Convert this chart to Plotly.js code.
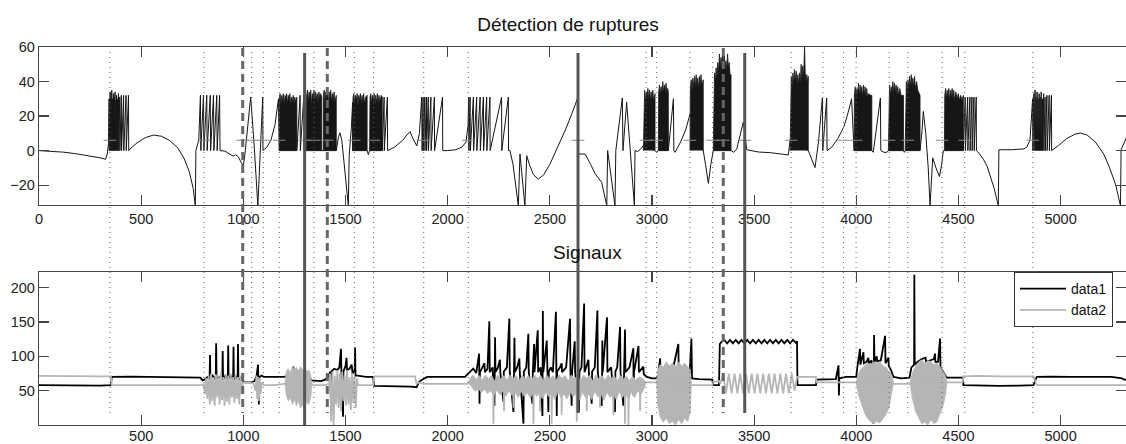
<!DOCTYPE html>
<html><head><meta charset="utf-8">
<script src="https://cdn.plot.ly/plotly-3.0.1.min.js"></script>
<style>html,body{margin:0;padding:0;background:#fff}#chart{width:1126px;height:444px}</style>
</head><body><div id="chart"></div>
<script>
// ---------- data ----------
const xTicksTop = [0,500,1000,1500,2000,2500,3000,3500,4000,4500,5000];
const xTicksBottom = [500,1000,1500,2000,2500,3000,3500,4000,4500,5000];
const yTicksTop = [-20,0,20,40,60];
const yTicksBottom = [50,100,150,200];

const dottedBreaks = [347,807,1041,1098,1176,1346,1543,1638,1883,2101,2971,3023,3186,3297,3681,3837,3937,3999,4161,4252,4420,4531,4864];
const dashedBreaks = [997,1411,3349];
const solidBreaks = [1300,2638,3454];
const thresholdLevel = 6;

const topSignal = [
[0,0],[60,-0.3],[120,-0.9],[180,-1.8],[240,-2.9],[300,-4.2],[326,-5],[334,-2],[340,4],
[343,30],[344,0],[348,34],[349,0],[352,31],[353,0],[356,35],[357,0],[360,30],[361,0],[364,33],[365,0],[368,31],[369,0],[372,34],[373,0],[376,29],[377,0],[380,32],[381,0],[384,30],[385,0],[389,33],[390,0],[395,31],[396,0],[403,32],[404,0],[414,32],[415,0],[426,32],[427,0],[438,32],[439,0],
[450,1.5],[480,4.5],[520,7.5],[560,9],[600,8.3],[640,5.8],[680,1.5],[710,-4.5],[735,-12],[755,-22],[765,-32],
[768,0],[782,6],
[790,32],[792,0],[805,32],[807,0],[821,32],[823,0],[838,32],[840,0],[854,32],[856,0],[870,32],[872,0],[884,32],[886,0],
[910,-0.3],[935,-2],[950,-3.2],[962,-2.4],[975,-3.5],[990,-7],[1000,-9],[1008,-2],[1020,12],[1036,31],[1052,5],[1071,-32],[1095,31],[1096,0],[1115,2],[1135,6],[1155,15],[1172,30],[1176,0],
[1262,0],[1278,32],[1279,0],[1296,32],[1297,0],[1308,0],
[1384,0],[1392,0],
[1455,0],[1466,8],[1473,10.3],[1482,6],[1495,-8],[1504,-20],[1514,-32],[1518,-3],[1528,12],[1535,28],[1535,0],
[1606,0],[1612,-2.3],[1618,0],
[1680,0],[1689,31],[1690,0],[1705,31],[1706,0],
[1740,2],[1780,6],[1800,9],[1816,11],[1830,7],[1849,2.7],[1862,10],[1873,31],[1875,0],[1880,31],[1881,0],[1888,31],[1889,0],[1896,31],[1897,0],[1905,31],[1906,0],[1918,31],[1919,0],[1935,31],[1936,0],[1975,31],[1976,0],
[2000,0],[2040,0.5],[2070,2],[2090,5],[2100,15],[2103,31],[2104,0],[2110,31],[2111,0],[2126,31],[2127,0],[2142,31],[2143,0],[2159,31],[2160,0],[2175,31],[2176,0],[2191,31],[2192,0],[2207,31],[2208,0],[2264,31],[2265,0],[2297,31],[2298,0],
[2305,0],[2320,-8],[2346,-32],[2354,-2],[2378,-32],[2387,-3],[2400,-8],[2420,-14],[2444,-16.5],[2470,-14],[2500,-8],[2540,2],[2580,13],[2610,22],[2635,30],[2640,-2],[2673,-2],[2700,-8],[2722,-13.4],[2754,-18.5],[2779,-32],[2783,0],[2819,-32],[2823,0],[2855,30.5],[2858,0],[2876,28],[2914,-32],[2917,0],[2930,-0.5],[2945,1],[2958,3],
[3015,0],[3023,-1],[3031,0],
[3080,0],[3105,30],[3107,0],[3113,-1],[3140,5],[3165,12],[3186,21],
[3251,0],[3262,-8],[3276,-19],[3288,-8],[3300,0],
[3387,0],[3400,-1],[3415,1],[3430,8],[3447,16.5],[3464,0.5],[3520,-0.8],[3580,-1.2],[3640,-2],[3667,-2.5],[3672,2],[3676,6],
[3765,0],[3780,-5],[3798,-9.8],[3815,5],[3834,30.5],[3836,0],[3855,30.5],[3857,0],[3880,2],[3910,7],[3940,14],[3960,22],[3977,30],[3989,0],
[4076,0],[4083,-1],[4118,30.5],[4120,0],[4135,-1],[4150,-1],[4157,0],
[4231,0],[4235,-1],[4239,0],
[4312,0],[4322,12],[4328,22.7],[4340,10],[4352,-10],[4361,-32],[4374,-4.2],[4390,-10],[4407,-15],[4418,-8],[4426,0],[4431,0],
[4524,0],[4533,31],[4534,0],[4545,31],[4546,0],[4556,31],[4557,0],[4566,31],[4567,0],[4576,31],[4577,0],[4587,31],[4588,0],
[4600,-1.5],[4622,-5],[4640,-9],[4655,-15],[4675,-22],[4695,-32],[4698,0.5],[4760,0.5],[4820,1],[4834,2],[4850,6],
[4863,30],[4864,0],[4869,33],[4870,0],[4875,35],[4876,0],[4880,31],[4881,0],[4885,34],[4886,0],[4890,30],[4891,0],[4895,33],[4896,0],[4900,31],[4901,0],[4905,34],[4906,0],[4911,30],[4912,0],[4917,33],[4918,0],[4924,31],[4925,0],[4933,32],[4934,0],[4944,32],[4945,0],[4955,32],[4956,0],
[4990,3],[5030,7],[5070,9.5],[5097,10.2],[5130,9],[5170,5],[5211,-2],[5240,-10],[5270,-20],[5293,-32],[5296,0.5],[5310,4],[5320,7],[5330,12]
];

// dense spike bursts of the top signal (outline of the dark block)
const topDense1 = [[1176,0],[1176,30],[1180,33],[1184,27],[1188,32],[1192,29],[1196,33],[1200,26],[1204,32],[1208,30],[1212,33],[1216,27],[1220,32],[1224,29],[1228,33],[1232,26],[1236,31],[1240,28],[1244,32],[1248,27],[1252,31],[1256,28],[1262,31],[1262,0]];
const topDense2 = [[1308,0],[1310,32],[1314,35],[1318,28],[1322,34],[1326,30],[1330,35],[1334,27],[1338,33],[1342,30],[1346,35],[1350,28],[1354,34],[1358,30],[1362,33],[1366,27],[1370,34],[1374,30],[1378,33],[1384,31],[1384,0]];
const topDense3 = [[1392,0],[1392,33],[1396,35],[1400,28],[1404,34],[1408,30],[1412,35],[1416,27],[1420,34],[1424,30],[1428,35],[1432,28],[1436,33],[1440,29],[1444,34],[1448,28],[1455,32],[1455,0]];
const topDense4 = [[1535,0],[1537,31],[1541,33],[1545,27],[1549,32],[1553,29],[1557,33],[1561,26],[1565,32],[1569,29],[1573,33],[1577,27],[1581,32],[1585,28],[1589,33],[1593,27],[1599,31],[1606,32],[1606,0]];
const topDense5 = [[1618,0],[1620,31],[1624,33],[1628,27],[1632,32],[1636,29],[1640,33],[1644,26],[1648,32],[1652,28],[1656,33],[1660,27],[1664,32],[1668,28],[1675,32],[1680,31],[1680,0]];
const topDense6 = [[2958,0],[2960,30],[2964,35],[2968,29],[2972,34],[2976,31],[2980,36],[2984,30],[2988,35],[2992,29],[2996,34],[3000,30],[3004,35],[3008,29],[3015,33],[3015,0]];
const topDense7 = [[3031,0],[3033,34],[3037,38],[3041,32],[3045,37],[3049,34],[3053,40],[3057,33],[3061,38],[3065,34],[3069,39],[3073,33],[3077,36],[3080,34],[3080,0]];
const topDense8 = [[3186,0],[3188,36],[3192,41],[3196,35],[3200,42],[3204,37],[3208,43],[3212,36],[3216,44],[3220,38],[3224,42],[3228,36],[3232,43],[3236,37],[3240,44],[3244,38],[3251,41],[3251,0]];
const topDense9 = [[3300,0],[3302,34],[3306,45],[3310,40],[3314,48],[3318,42],[3322,51],[3326,45],[3330,56],[3334,48],[3338,54],[3342,47],[3346,58],[3350,50],[3354,55],[3358,47],[3362,52],[3366,46],[3370,56],[3374,48],[3378,51],[3382,44],[3387,44],[3387,0]];
const topDense10 = [[3676,0],[3678,32],[3682,43],[3686,37],[3690,45],[3694,39],[3698,47],[3702,40],[3706,46],[3710,39],[3714,44],[3718,38],[3722,45],[3726,39],[3730,50],[3734,41],[3738,49],[3742,42],[3745,54],[3747,61],[3750,45],[3754,40],[3758,44],[3762,39],[3765,43],[3765,0]];
const topDense11 = [[3989,0],[3991,33],[3995,37],[3999,31],[4003,36],[4007,33],[4011,39],[4015,32],[4019,38],[4023,33],[4027,37],[4031,31],[4035,38],[4039,32],[4043,37],[4047,31],[4051,36],[4055,31],[4061,33],[4069,32],[4076,32],[4076,0]];
const topDense12 = [[4157,0],[4159,32],[4163,38],[4167,32],[4171,37],[4175,34],[4179,40],[4183,33],[4187,39],[4191,34],[4195,38],[4199,32],[4203,37],[4207,32],[4213,36],[4219,32],[4225,32],[4231,32],[4231,0]];
const topDense13 = [[4239,0],[4241,34],[4245,40],[4249,34],[4253,41],[4257,36],[4261,43],[4265,37],[4269,44],[4273,38],[4277,42],[4281,37],[4285,43],[4289,36],[4295,40],[4301,35],[4307,33],[4312,32],[4312,0]];
const topDense14 = [[4431,0],[4433,32],[4437,36],[4441,30],[4445,35],[4449,31],[4453,36],[4457,29],[4461,35],[4465,31],[4469,36],[4473,30],[4477,35],[4481,29],[4487,34],[4493,30],[4499,33],[4505,29],[4511,32],[4517,29],[4524,32],[4524,0]];

const data1 = [
[0,58],[100,57.5],[200,58],[300,57.5],[352,58],[356,70],[450,70.5],[550,70],[650,70.5],[750,70],[790,69],[800,65],
[810,66],[825,70],[835,67],[837,102],[839,66],[850,72],[865,66],[867,119],[869,68],[885,70],[897,66],[899,108],[901,66],[912,72],[924,67],[926,116],[928,68],[940,71],[950,66],[952,114],[954,66],[965,70],[972,67],[974,118],[976,66],[990,68],[1000,63],
[1010,62],[1040,62],[1055,64],[1065,72],[1072,88],[1074,60],[1076,30],[1078,70],[1090,72],[1100,70],[1150,70],[1200,70],
[1220,72],[1240,74],[1245,85],[1248,72],[1270,78],[1285,80],[1300,72],[1320,70],[1335,65],[1380,64],[1400,66],[1415,70],
[1425,78],[1430,20],[1432,78],[1445,82],[1460,80],[1470,84],[1478,111],[1480,78],[1488,12],[1490,78],[1500,86],[1505,98],[1508,80],[1520,82],[1530,88],[1535,75],[1545,80],[1547,113],[1549,72],[1560,72],
[1600,70],[1635,70],[1640,57],[1700,57],[1760,56.5],[1820,56],[1848,55],[1860,63],[1881,67],[1900,70],[1950,70],[2000,70.5],[2050,70],[2085,70],[2100,74],
[2110,77],[2125,82],[2140,76],[2154,104],[2156,31],[2158,77],[2170,84],[2180,90],[2182,77],[2195,82],[2204,151],[2206,77],[2220,84],[2229,28],[2232,128],[2234,77],[2245,83],[2256,95],[2258,76],[2273,34],[2275,78],[2290,84],[2302,155],[2304,77],[2322,19],[2324,78],[2327,127],[2329,77],[2340,84],[2351,97],[2353,77],[2371,2],[2373,78],[2385,84],[2395,133],[2397,77],[2415,31],[2417,78],[2423,118],[2425,77],[2441,138],[2443,77],[2455,84],[2464,13],[2466,166],[2468,77],[2485,123],[2487,77],[2493,19],[2495,78],[2505,84],[2515,77],[2530,165],[2532,77],[2534,13],[2536,78],[2550,84],[2558,90],[2560,77],[2580,84],[2599,155],[2601,77],[2607,28],[2609,78],[2622,122],[2624,77],[2643,19],[2645,78],[2655,84],[2668,177],[2670,77],[2689,95],[2691,77],[2705,31],[2707,78],[2720,84],[2733,167],[2735,77],[2754,28],[2756,80],[2757,123],[2759,77],[2780,157],[2782,77],[2800,84],[2819,19],[2821,78],[2830,84],[2844,143],[2846,77],[2860,28],[2862,78],[2868,139],[2870,77],[2890,84],[2909,112],[2910,43],[2912,77],[2934,115],[2936,77],[2958,85],[2960,74],[2975,70],[3000,68],[3020,68],
[3030,72],[3040,97],[3042,74],[3080,76],[3100,78],[3129,118],[3131,76],[3160,78],[3185,78],[3193,126],[3196,68],[3230,67],[3270,66],[3295,66],[3300,58],[3328,58],[3332,118],[3340,121],
[3354,124],[3368,119],[3382,124],[3396,119],[3410,124],[3424,119],[3438,124],[3452,119],[3466,124],[3480,119],[3494,124],[3508,119],[3522,124],[3536,119],[3550,124],[3564,119],[3578,124],[3592,119],[3606,124],[3620,119],[3634,124],[3648,119],[3662,124],[3676,119],[3690,124],[3704,120],[3710,122],[3712,58],[3760,58],[3803,58],[3806,66],[3850,66],[3900,67],[3913,87],[3915,43],[3917,68],[3950,70],[4000,70],
[4005,84],[4018,111],[4020,88],[4035,106],[4037,90],[4050,92],[4059,98],[4061,90],[4075,94],[4084,2],[4086,92],[4087,131],[4089,92],[4100,100],[4102,93],[4120,94],[4141,130],[4143,90],[4157,98],[4159,86],[4170,80],[4182,70],[4220,68],[4260,69],
[4270,84],[4283,88],[4284,219],[4286,88],[4300,92],[4320,96],[4339,98],[4341,92],[4360,94],[4380,96],[4385,104],[4387,92],[4400,92],[4410,126],[4412,84],[4430,76],[4443,69],[4480,69],[4520,69],[4524,58],[4600,57.5],[4700,57],[4800,57.5],[4867,58],[4883,70],[4950,70.5],[5050,70],[5150,70],[5250,70],[5300,68],[5310,66],[5330,66]
];

const data2 = [
[0,71.5],[100,71],[200,71.5],[300,71],[352,71],[356,58],[450,58],[550,58.5],[650,58],[750,58],[800,58],
[806,60],[812,45],[818,68],[824,38],[830,72],[836,30],[842,75],[848,35],[854,70],[860,28],[866,74],[872,40],[878,72],[884,30],[890,76],[896,36],[902,70],[908,28],[914,74],[920,34],[926,72],[932,30],[938,75],[944,40],[950,70],[956,32],[962,74],[968,38],[974,70],[980,30],[986,72],[992,45],[998,62],
[1010,62],[1050,61],[1060,50],[1064,72],[1068,38],[1072,70],[1076,35],[1080,68],[1085,45],[1090,62],[1100,58],[1150,58],[1200,60],[1335,60],[1340,58],[1400,58],[1420,60],
[1425,75],[1430,5],[1436,78],[1442,0],[1448,72],[1454,30],[1460,80],[1466,25],[1472,75],[1478,20],[1484,78],[1490,35],[1496,72],[1502,28],[1508,80],[1514,30],[1520,70],[1526,22],[1532,76],[1538,32],[1544,70],[1550,25],[1556,68],[1560,58],
[1600,58],[1636,58],[1640,71],[1700,71.5],[1760,71],[1840,71],[1848,60],[1860,62],[1881,60],[1950,60],[2000,60],[2050,60.5],[2095,60],
[2101,62],[2223,60],[2224,2],[2226,60],[2275,58],[2276,20],[2278,58],[2321,58],[2322,25],[2324,58],[2419,58],[2420,2],[2422,58],[2451,58],[2452,20],[2454,58],[2508,58],[2509,2],[2511,58],[2557,58],[2558,15],[2560,58],[2631,58],[2632,5],[2634,58],[2680,58],[2681,20],[2683,58],[2745,58],[2746,25],[2748,58],[2810,58],[2811,15],[2813,58],[2867,58],[2868,2],[2870,58],[2884,58],[2885,0],[2887,58],[2941,58],[2942,20],[2944,58],[2970,62],
[2975,62],[3020,62],[3195,58],[3250,58],[3295,58],[3300,63],[3330,64],[3335,60],
[3348,75],[3362,46],[3376,75],[3390,46],[3404,75],[3418,46],[3432,75],[3446,46],[3460,75],[3474,46],[3488,75],[3502,46],[3516,75],[3530,46],[3544,75],[3558,46],[3572,75],[3586,46],[3600,75],[3614,46],[3628,75],[3642,46],[3656,75],[3670,46],[3684,75],[3698,50],[3710,70],[3760,70],[3803,70],[3806,62],[3900,62],[3995,62],[4185,60],[4260,60],[4445,62],[4520,62],[4524,71],[4600,71.5],[4700,71],[4800,71],[4867,71],[4883,58],[5000,58],[5100,58],[5200,58],[5330,58]
];

// dense oscillation blocks of data2 (outline)
const data2Dense1 = [[1204,60],[1210,78],[1220,82],[1230,76],[1240,86],[1250,80],[1260,84],[1270,78],[1280,85],[1290,80],[1300,83],[1310,78],[1320,80],[1330,72],[1335,60],[1330,40],[1320,30],[1310,35],[1300,22],[1290,30],[1280,25],[1270,35],[1260,28],[1250,38],[1240,30],[1230,40],[1220,35],[1210,45],[1204,60]];
const data2Dense2 = [[2101,62],[2110,68],[2125,73],[2140,66],[2155,72],[2170,65],[2185,73],[2200,67],[2215,72],[2230,64],[2245,73],[2260,67],[2275,72],[2290,65],[2305,73],[2320,68],[2335,72],[2350,64],[2365,73],[2380,67],[2395,72],[2410,65],[2425,73],[2440,68],[2455,72],[2470,64],[2485,73],[2500,67],[2515,72],[2530,65],[2545,73],[2560,68],[2575,72],[2590,64],[2605,73],[2620,67],[2635,72],[2650,65],[2665,73],[2680,68],[2695,72],[2710,64],[2725,73],[2740,67],[2755,72],[2770,65],[2785,73],[2800,68],[2815,72],[2830,64],[2845,72],[2860,67],[2875,71],[2890,65],[2905,71],[2920,66],[2940,70],[2960,66],[2970,62],[2960,52],[2945,44],[2930,50],[2915,40],[2900,48],[2885,38],[2870,46],[2855,40],[2840,49],[2825,37],[2810,45],[2795,40],[2780,48],[2765,36],[2750,46],[2735,41],[2720,49],[2705,37],[2690,45],[2675,40],[2660,48],[2645,36],[2630,46],[2615,41],[2600,48],[2585,38],[2570,45],[2555,40],[2540,49],[2525,37],[2510,46],[2495,41],[2480,48],[2465,38],[2450,46],[2435,42],[2420,49],[2405,39],[2390,47],[2375,42],[2360,49],[2345,40],[2330,48],[2315,43],[2300,50],[2285,42],[2270,49],[2255,44],[2240,51],[2225,43],[2210,50],[2195,46],[2180,52],[2165,47],[2150,53],[2135,49],[2120,55],[2101,62]];
const data2Dense3 = [[3023,62],[3028,80],[3040,88],[3055,84],[3070,92],[3085,86],[3100,90],[3115,85],[3130,92],[3145,86],[3160,90],[3175,84],[3188,80],[3192,62],[3188,20],[3175,5],[3160,10],[3145,2],[3130,8],[3115,0],[3100,6],[3085,2],[3070,10],[3055,4],[3040,12],[3028,30],[3023,62]];
const data2Dense4 = [[4000,62],[4010,75],[4025,82],[4040,86],[4055,90],[4070,88],[4085,92],[4100,90],[4115,92],[4130,86],[4145,84],[4160,78],[4175,72],[4182,62],[4175,48],[4160,25],[4145,15],[4130,8],[4115,3],[4100,6],[4085,2],[4070,5],[4055,10],[4040,18],[4025,30],[4010,45],[4000,62]];
const data2Dense5 = [[4263,62],[4275,76],[4290,86],[4305,92],[4320,95],[4335,90],[4350,94],[4365,92],[4380,88],[4395,90],[4410,85],[4425,78],[4437,72],[4443,62],[4437,45],[4425,28],[4410,15],[4395,5],[4380,2],[4365,8],[4350,0],[4335,4],[4320,2],[4305,12],[4290,20],[4275,38],[4263,62]];

// ---------- drawing ----------
const W = 1126, H = 444;
const px = v => v / W, py = v => 1 - v / H;
const xs = a => a.map(p => p[0]), ys = a => a.map(p => p[1]);
const FONT = 'Liberation Sans, Arial, Helvetica, sans-serif';

const traces = [];
traces.push({x: xs(topSignal), y: ys(topSignal), xaxis:'x', yaxis:'y', mode:'lines',
  line:{color:'#151515', width:1}, showlegend:false, hoverinfo:'skip'});
[topDense1,topDense2,topDense3,topDense4,topDense5,topDense6,topDense7,topDense8,topDense9,topDense10,topDense11,topDense12,topDense13,topDense14].forEach(d => {
  traces.push({x: xs(d), y: ys(d), xaxis:'x', yaxis:'y', mode:'lines', fill:'toself',
    fillcolor:'#161616', line:{color:'#161616', width:0.8}, showlegend:false, hoverinfo:'skip'});
});
const allBreaks = dottedBreaks.concat(dashedBreaks, solidBreaks);
traces.push({x: allBreaks, y: allBreaks.map(() => thresholdLevel), xaxis:'x', yaxis:'y', mode:'markers',
  marker:{symbol:'line-ew', size:9, line:{color:'#888', width:1}}, showlegend:false, hoverinfo:'skip'});

traces.push({x: xs(data1), y: ys(data1), xaxis:'x2', yaxis:'y2', mode:'lines', name:'data1',
  line:{color:'#000', width:1.8}, showlegend:true});
[data2Dense1,data2Dense2,data2Dense3,data2Dense4,data2Dense5].forEach(d => {
  traces.push({x: xs(d), y: ys(d), xaxis:'x2', yaxis:'y2', mode:'lines', fill:'toself',
    fillcolor:'#b5b5b5', line:{color:'#b5b5b5', width:0.8}, showlegend:false, hoverinfo:'skip'});
});
traces.push({x: xs(data2), y: ys(data2), xaxis:'x2', yaxis:'y2', mode:'lines', name:'data2',
  line:{color:'#b5b5b5', width:1.8}, showlegend:true});

const shapes = [];
dottedBreaks.forEach(v => shapes.push({type:'line', xref:'x', yref:'paper', x0:v, x1:v, y0:py(52), y1:py(413),
  line:{color:'#666', width:1, dash:'1px,4px'}, layer:'above'}));
dashedBreaks.forEach(v => shapes.push({type:'line', xref:'x', yref:'paper', x0:v, x1:v, y0:py(48), y1:py(413),
  line:{color:'#666', width:3, dash:'8px,5px'}, layer:'above'}));
solidBreaks.forEach(v => shapes.push({type:'line', xref:'x', yref:'paper', x0:v, x1:v, y0:py(53), y1:py(v === 1300 ? 425 : 413),
  line:{color:'#555', width:3}, layer:'above'}));

const axBase = {showline:true, linecolor:'#444', linewidth:1.2, mirror:'ticks', ticks:'inside', ticklen:10,
  tickcolor:'#444', tickwidth:1.2, showgrid:false, zeroline:false, tickfont:{size:14.5, color:'#222', family:FONT}};
const xDom = [px(39), 1];

const layout = {
  width:W, height:H, margin:{l:0,r:0,t:0,b:0}, paper_bgcolor:'#fff', plot_bgcolor:'#fff',
  font:{family:FONT, color:'#222'},
  title:{text:'Détection de ruptures', x:px(568), xanchor:'center', y:py(24), yanchor:'middle',
    font:{size:19, color:'#111', family:FONT}},
  xaxis: Object.assign({}, axBase, {domain:xDom, anchor:'y', range:[0,5320], tickvals:xTicksTop}),
  yaxis: Object.assign({}, axBase, {domain:[py(205), py(47)], anchor:'x', range:[-31.5,60], tickvals:yTicksTop}),
  xaxis2: Object.assign({}, axBase, {domain:xDom, anchor:'y2', range:[0,5320], tickvals:xTicksBottom, ticklabelstandoff:-3}),
  yaxis2: Object.assign({}, axBase, {domain:[py(425), py(272)], anchor:'x2', range:[0,223], tickvals:yTicksBottom}),
  annotations:[{text:'Signaux', xref:'paper', yref:'paper', x:px(587), y:py(253), xanchor:'center', yanchor:'middle',
    showarrow:false, font:{size:19, color:'#111', family:FONT}}],
  shapes: shapes,
  showlegend:true,
  legend:{x:px(1014), y:py(272), xanchor:'left', yanchor:'top', bgcolor:'#fff', bordercolor:'#333', borderwidth:1,
    font:{size:14, color:'#111', family:FONT}, itemwidth:46, tracegroupgap:0}
};

Plotly.newPlot('chart', traces, layout, {displayModeBar:false, staticPlot:true});
</script></body></html>
